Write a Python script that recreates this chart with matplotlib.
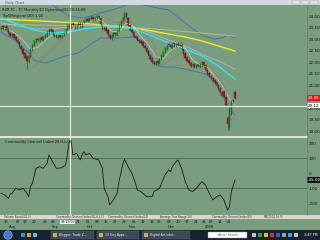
import numpy as np
import pandas as pd
import matplotlib
matplotlib.use('Agg')
import matplotlib.pyplot as plt
import matplotlib.transforms as mtransforms
from matplotlib.patches import Rectangle, Circle

# ---- data ----
holidays = ['2007-09-03', '2007-11-22', '2007-12-25', '2008-01-01']

opens = [23.45, 23.55, 23.42, 23.55, 23.42, 23.28, 23.12, 23.22, 23.08, 22.98,
         22.88, 22.72, 22.58, 22.40, 22.25, 22.00, 22.22, 22.55, 22.72, 22.88,
         23.02, 22.92, 23.08, 22.95, 23.08, 23.12, 23.28, 23.42, 23.38, 23.22,
         23.18, 23.05, 23.18, 23.08, 23.18, 23.25, 23.42, 23.62, 23.48, 23.68,
         23.62, 23.48, 23.60, 23.72, 23.52, 23.68, 23.78, 23.88, 23.76, 23.88,
         23.97, 23.83, 23.90, 24.02, 23.92, 23.62, 23.42, 23.52, 23.40, 23.18,
         23.02, 23.12, 23.28, 23.18, 23.35, 23.58, 23.72, 23.88, 24.12, 23.92,
         23.62, 23.42, 23.32, 23.12, 23.08, 22.98, 22.92, 22.88, 22.72, 22.62,
         22.48, 22.32, 22.18, 22.02, 21.90, 22.04, 21.95, 22.12, 22.28, 22.42,
         22.58, 22.82, 22.78, 22.62, 22.82, 22.68, 22.82, 22.68, 22.80, 22.58,
         22.38, 22.22, 22.08, 21.98, 21.82, 21.92, 21.78, 21.88, 21.80, 21.85,
         22.02, 21.88, 21.68, 21.55, 21.42, 21.32, 21.22, 21.12, 21.02, 20.88,
         20.72, 20.75, 20.50, 19.60, 19.15, 19.75, 20.30, 20.70]
highs = [23.58, 23.60, 23.58, 23.60, 23.48, 23.32, 23.25, 23.26, 23.12, 23.02,
         22.92, 22.76, 22.62, 22.45, 22.30, 22.30, 22.60, 22.80, 22.95, 23.05,
         23.06, 23.10, 23.12, 23.14, 23.20, 23.35, 23.46, 23.48, 23.42, 23.26,
         23.22, 23.20, 23.22, 23.24, 23.30, 23.50, 23.66, 23.68, 23.70, 23.72,
         23.66, 23.66, 23.75, 23.76, 23.74, 23.84, 23.90, 23.92, 23.94, 24.00,
         24.01, 23.96, 24.05, 24.06, 23.95, 23.66, 23.55, 23.56, 23.44, 23.22,
         23.20, 23.30, 23.32, 23.40, 23.65, 23.80, 23.95, 24.20, 24.16, 23.96,
         23.66, 23.46, 23.36, 23.16, 23.12, 23.02, 22.96, 22.92, 22.76, 22.66,
         22.52, 22.36, 22.22, 22.06, 22.05, 22.08, 22.20, 22.35, 22.50, 22.65,
         22.75, 22.86, 22.82, 22.83, 22.86, 22.85, 22.86, 22.83, 22.84, 22.62,
         22.42, 22.26, 22.12, 22.02, 21.95, 21.96, 21.90, 21.92, 21.95, 22.05,
         22.06, 21.92, 21.72, 21.58, 21.46, 21.36, 21.26, 21.16, 21.06, 20.92,
         20.76, 20.80, 20.54, 19.68, 20.00, 20.35, 20.42, 20.78]
lows = [23.40, 23.40, 23.38, 23.36, 23.20, 23.10, 23.08, 23.00, 22.90, 22.80,
        22.65, 22.50, 22.30, 22.15, 21.72, 21.95, 22.18, 22.50, 22.68, 22.85,
        22.90, 22.88, 22.92, 22.90, 23.04, 23.08, 23.24, 23.30, 23.15, 23.10,
        23.05, 23.00, 23.05, 23.04, 23.14, 23.20, 23.38, 23.45, 23.44, 23.55,
        23.45, 23.44, 23.56, 23.50, 23.48, 23.64, 23.74, 23.72, 23.72, 23.84,
        23.80, 23.78, 23.86, 23.90, 23.55, 23.40, 23.38, 23.30, 23.15, 23.00,
        22.98, 23.08, 23.15, 23.14, 23.30, 23.54, 23.68, 23.84, 23.90, 23.55,
        23.36, 23.25, 23.05, 23.00, 22.90, 22.85, 22.80, 22.65, 22.55, 22.40,
        22.25, 22.10, 21.95, 21.86, 21.86, 21.90, 21.90, 22.08, 22.24, 22.38,
        22.54, 22.70, 22.60, 22.58, 22.66, 22.64, 22.68, 22.64, 22.50, 22.30,
        22.15, 22.00, 21.90, 21.80, 21.78, 21.75, 21.74, 21.78, 21.76, 21.82,
        21.80, 21.60, 21.45, 21.35, 21.25, 21.15, 21.05, 20.95, 20.80, 20.65,
        20.50, 20.45, 20.10, 19.05, 19.05, 19.70, 20.25, 20.40]
closes = [23.52, 23.45, 23.55, 23.40, 23.25, 23.15, 23.20, 23.05, 22.95, 22.85,
          22.70, 22.55, 22.35, 22.20, 22.05, 22.25, 22.55, 22.75, 22.90, 23.00,
          22.95, 23.05, 22.98, 23.10, 23.15, 23.30, 23.40, 23.35, 23.20, 23.15,
          23.10, 23.15, 23.10, 23.20, 23.25, 23.45, 23.60, 23.50, 23.65, 23.60,
          23.50, 23.62, 23.70, 23.55, 23.70, 23.80, 23.85, 23.78, 23.90, 23.95,
          23.85, 23.92, 24.00, 23.95, 23.60, 23.45, 23.50, 23.35, 23.20, 23.05,
          23.15, 23.25, 23.20, 23.35, 23.60, 23.75, 23.90, 24.10, 23.95, 23.60,
          23.40, 23.30, 23.10, 23.05, 22.95, 22.90, 22.85, 22.70, 22.60, 22.45,
          22.30, 22.15, 22.00, 21.92, 22.00, 21.95, 22.15, 22.30, 22.45, 22.60,
          22.70, 22.75, 22.65, 22.78, 22.70, 22.80, 22.72, 22.78, 22.55, 22.35,
          22.20, 22.05, 21.95, 21.85, 21.90, 21.80, 21.85, 21.82, 21.90, 22.00,
          21.85, 21.65, 21.50, 21.40, 21.30, 21.20, 21.10, 21.00, 20.85, 20.70,
          20.55, 20.50, 20.15, 19.30, 19.95, 20.30, 20.35, 20.45]

# indicator lines, sampled at these bars
line_bars = [0, 9, 18, 27, 37, 45, 54, 64, 72, 82, 91, 100, 109, 118, 127]
cyan_ma = [23.91, 23.65, 23.39, 23.26, 23.31, 23.44, 23.52, 23.52, 23.44, 23.13,
           22.83, 22.57, 22.27, 21.83, 21.27]
yellow_ma = [23.87, 23.83, 23.80, 23.76, 23.72, 23.68, 23.61, 23.55, 23.48, 23.35,
             23.22, 23.09, 22.92, 22.70, 22.48]
lavender_ma = [23.70, 23.57, 23.44, 23.44, 23.52, 23.61, 23.61, 23.57, 23.48, 23.26,
               22.96, 22.70, 22.35, 22.05, 21.70]
khaki_bars = [0, 18, 37, 54, 72, 91, 109, 127]
khaki_ma = [23.65, 23.61, 23.59, 23.57, 23.50, 23.39, 23.26, 23.13]

short_bars = [0, 4, 8, 12, 16, 20, 24, 28, 32, 36, 40, 44, 48, 52, 56, 60, 64,
              68, 72, 76, 80, 84, 88, 92, 96, 100, 104, 108, 112, 116, 120, 124, 127]
short_ma = [23.50, 23.42, 23.22, 22.95, 22.55, 22.65, 22.95, 23.18, 23.18, 23.25,
            23.50, 23.58, 23.75, 23.88, 23.72, 23.35, 23.30, 23.70, 23.55, 23.10,
            22.75, 22.25, 22.15, 22.50, 22.70, 22.62, 22.10, 21.88, 21.78, 21.40,
            21.00, 20.40, 20.15]

upper_bars = [0, 9, 18, 26, 30, 37, 45, 54, 64, 71, 76, 85, 91, 98, 105, 110, 116, 120, 123, 127]
upper_band = [24.85, 24.90, 24.85, 24.62, 24.35, 24.00, 23.91, 24.13, 24.35, 24.60,
              24.50, 24.35, 24.26, 23.83, 23.39, 23.13, 23.00, 23.05, 23.18, 23.05]
lower_bars = [0, 7, 15, 18, 24, 29, 33, 37, 42, 48, 54, 60, 65, 72, 78, 83, 87, 94,
              102, 109, 113, 118, 123, 127]
lower_band = [23.31, 22.96, 22.40, 22.09, 21.96, 22.09, 22.22, 22.31, 22.40, 22.74,
              23.05, 23.05, 23.05, 23.09, 22.87, 21.96, 21.79, 21.79, 21.66, 21.53,
              21.44, 20.88, 20.14, 19.71]

# dotted stop line, nan = break between runs
sar_bars = [17, 21, 26, 31, 36, 53, 57, 62, 70, 76, 83, 86, 91, 96, 102, 105, 110, 116, 122, 125, 127]
sar_vals = [21.75, 22.05, 22.45, 22.85, 23.25, np.nan, 23.95, 23.70, 23.83, 23.31, 22.83,
            21.79, 22.05, 22.31, 22.61, np.nan, 22.15, 21.57, 20.79, 19.50, 19.60]

cci_bars = [0, 2, 4, 5, 6, 8, 10, 12, 14, 15, 16, 17, 19, 21, 23, 25, 26, 28, 30, 33,
            35, 36, 37, 38, 39, 41, 43, 44, 45, 46, 48, 50, 53, 55, 56, 58, 59, 61,
            63, 64, 66, 67, 69, 71, 73, 74, 76, 79, 82, 83, 86, 89, 91, 92, 93, 95,
            96, 98, 100, 102, 104, 106, 109, 111, 113, 115, 117, 119, 121, 123, 124,
            125, 127]
cci_vals = [-133, -145, -167, -140, -133, -100, -111, -100, -133, -156, -89, -67, 33,
            44, 33, 67, 122, 77, 33, 37, 55, 122, 211, 222, 122, 133, 89, 122, 144,
            122, 133, 100, 89, 33, -100, -156, -211, -178, -133, -56, 55, 95, 44, 0,
            -67, -111, -122, -156, -156, -122, -100, -11, 22, 11, 44, 77, 89, 33, -56,
            -111, -122, -100, -56, -78, -133, -178, -156, -145, -178, -245, -223,
            -122, -45]

price_ticks = [19.0, 19.5, 20.0, 20.5, 21.0, 21.5, 22.0, 22.5, 23.0, 23.5, 24.0]
cci_ticks = [200, 100, 0, -100, -200]
cross_price = 20.12
cross_date = '09/18/07'
day_tick_dates = ['2007-07-30', '2007-08-07', '2007-08-13', '2007-08-20', '2007-08-28',
                  '2007-09-04', '2007-09-24', '2007-10-01',
                  '2007-10-08', '2007-10-15', '2007-10-22', '2007-10-29', '2007-11-05',
                  '2007-11-12', '2007-11-19', '2007-11-26', '2007-12-03', '2007-12-10',
                  '2007-12-17', '2007-12-24', '2007-12-31', '2008-01-07', '2008-01-14',
                  '2008-01-21']
month_labels = ['Aug', 'Sep', 'Oct', 'Nov', 'Dec', '2008']

# ---- layout ----
W, H = 320, 240
GREEN = '#7a9d7f'
fig = plt.figure(figsize=(3.2, 2.4), dpi=100)
fig.patch.set_facecolor(GREEN)
px = mtransforms.Affine2D().scale(1 / W, -1 / H).translate(0, 1) + fig.transFigure


def px_axes(x0, y0, x1, y1):
    return fig.add_axes([x0 / W, 1 - y1 / H, (x1 - x0) / W, (y1 - y0) / H])


dates = pd.bdate_range('2007-07-25', '2008-01-24').drop(pd.to_datetime(holidays))
n = len(closes)
bars = np.arange(n)
xlim = (-0.55, 165.8)

ax1 = px_axes(0, 5, 306.5, 137)
ax2 = px_axes(0, 138, 306.5, 215)
for ax in (ax1, ax2):
    ax.set_facecolor(GREEN)
    ax.set_xlim(*xlim)
    for s in ax.spines.values():
        s.set_visible(False)
    ax.set_xticks([])
    ax.yaxis.tick_right()
    ax.tick_params(axis='y', length=0, pad=1.5, labelsize=3, labelcolor='#101010')

# price panel
ax1.set_ylim(18.757, 24.477)
ax1.set_yticks(price_ticks)
ax1.set_yticklabels([f'{v:.2f}' for v in price_ticks])

ax1.plot(upper_bars, upper_band, color='#4a66b8', lw=0.6)
ax1.plot(lower_bars, lower_band, color='#4a66b8', lw=0.6)
ax1.plot(khaki_bars, khaki_ma, color='#c8c078', lw=0.6)
ax1.plot(line_bars, yellow_ma, color='#f0f020', lw=1.0)
ax1.plot(line_bars, lavender_ma, color='#b8b4d0', lw=0.6)
ax1.plot(line_bars, cyan_ma, color='#20f0f0', lw=1.0)
ax1.plot(short_bars, short_ma, color='#d8d8d0', lw=0.4)
ax1.plot(sar_bars, sar_vals, color='#e03030', lw=0.5, ls=(0, (1, 2)))

o = np.array(opens)
c = np.array(closes)
up = c >= o
ax1.vlines(bars, lows, highs, color='#303030', lw=0.4)
ax1.bar(bars[up], (c - o)[up], bottom=o[up], width=0.85, color='#10e010',
        edgecolor='#205020', lw=0.2)
ax1.bar(bars[~up], (o - c)[~up], bottom=c[~up], width=0.85, color='#d81010',
        edgecolor='#501010', lw=0.2)

cross_bar = 37.3
ax1.axhline(cross_price, color='#f0f0f0', lw=0.8)
ax1.axvline(cross_bar, color='#f0f0f0', lw=0.8)
bt = mtransforms.blended_transform_factory(ax1.transAxes, ax1.transData)
ax1.text(1.004, cross_price, f'{cross_price:.2f}', transform=bt, fontsize=3, va='center',
         ha='left', color='black',
         bbox=dict(boxstyle='square,pad=0.2', fc='white', ec='none'))
ax1.text(1.004, closes[-1], f'{closes[-1]:.2f}', transform=bt, fontsize=3, va='center',
         ha='left', color='white',
         bbox=dict(boxstyle='square,pad=0.2', fc='#e01818', ec='none'))
ax1.text(0.006, 0.975, 'RZR TC - TC Monthly(D) Dynamics(E) 09:24:08', transform=ax1.transAxes,
         fontsize=2.6, va='top', ha='left', color='#101010')
ax1.text(0.006, 0.935, 'TopWhisperer(20) 1.00', transform=ax1.transAxes,
         fontsize=2.6, va='top', ha='left', color='#101010')

# CCI panel
ax2.set_ylim(-278, 235)
ax2.set_yticks(cci_ticks)
ax2.set_yticklabels([str(v) for v in cci_ticks])
ax2.axhline(100, color='#4e6b53', lw=0.6)
ax2.axhline(-100, color='#4e6b53', lw=0.6)
ax2.plot(cci_bars, cci_vals, color='#101010', lw=0.55)
ax2.axvline(cross_bar, color='#f0f0f0', lw=0.8)
bt2 = mtransforms.blended_transform_factory(ax2.transAxes, ax2.transData)
ax2.text(1.004, cci_vals[-1], f'{cci_vals[-1]:.2f}', transform=bt2, fontsize=3, va='center',
         ha='left', color='white',
         bbox=dict(boxstyle='square,pad=0.2', fc='#101010', ec='none'))
ax2.text(0.015, 0.97, 'Commodity Channel Index(20,H,L,C)', transform=ax2.transAxes,
         fontsize=2.6, va='top', ha='left', color='#101010')

# window chrome
fig.add_artist(Rectangle((0, 0), W, 5, transform=px, fc='#d4dae2', ec='none'))
fig.text(5 / W, 1 - 2.6 / H, 'Daily Chart', fontsize=2.4, color='#505860', va='center')
for bx in (292, 301, 310):
    fig.add_artist(Rectangle((bx, 0.6), 7.5, 3.8, transform=px, fc='#e8ecf0', ec='#9098a0', lw=0.3))
fig.add_artist(plt.Line2D([0, 306.5], [137.2, 137.2], transform=px, color='#f4f4f4', lw=1.2))
fig.add_artist(plt.Line2D([306.8, 306.8], [5, 215], transform=px, color='#5d7a62', lw=0.4))

# tab strip
fig.add_artist(Rectangle((0, 215), W, 4, transform=px, fc='#d8d8d0', ec='none'))
tabs = ['Volume Bands(20,2)', 'Commodity Channel Index(20,H,L,C)',
        'Commodity Channel Index(14)', 'Average True Range(14)',
        'Commodity Channel Index(50)', 'MACD(12,26,9)']
tx = 4
for t in tabs:
    fig.text(tx / W, 1 - 217 / H, t, fontsize=1.9, color='#303030', va='center')
    tx += 52

# date axis
dx = mtransforms.blended_transform_factory(ax2.transData, px)
for d in day_tick_dates:
    b = dates.get_loc(pd.Timestamp(d))
    fig.text(b, 222, pd.Timestamp(d).strftime('%d'), transform=dx, fontsize=2.6,
             ha='center', va='center', color='#101010')
month_idx = [i for i in range(1, n) if dates[i].month != dates[i - 1].month]
for lab, b in zip(month_labels, month_idx):
    fig.text(b - 0.5, 227, lab, transform=dx, fontsize=2.6, ha='left', va='center',
             color='#101010')
fig.text(36.2, 222, cross_date, transform=dx, fontsize=2.3, ha='center', va='center',
         color='#101010', bbox=dict(boxstyle='square,pad=0.1', fc='white', ec='none'))

# taskbar
fig.add_artist(Rectangle((0, 230), W, 10, transform=px, fc='#18222e', ec='none'))
fig.add_artist(Circle((8, 235), 4.2, transform=px, fc='#3c7ad0', ec='#9cc0e8', lw=0.4))
for qx, qc in zip((21, 27, 33), ('#3a8ae0', '#e0a030', '#60b0e0')):
    fig.add_artist(Rectangle((qx, 232.5), 4, 4, transform=px, fc=qc, ec='none'))
task_buttons = [(51, 43, 'Blogger: Trade Z...'), (97, 42, '19 Tiny Apps...'),
                (142, 48, 'Digital Art Infor...')]
for bx, bw, lab in task_buttons:
    fig.add_artist(Rectangle((bx, 231.3), bw, 7.5, transform=px, fc='#3c4a58', ec='#5a6a7a', lw=0.3))
    fig.add_artist(Rectangle((bx + 2, 233), 4, 4, transform=px, fc='#c8b060', ec='none'))
    fig.text((bx + 8) / W, 1 - 235 / H, lab, fontsize=2.2, color='white', va='center')
fig.add_artist(Rectangle((208, 232), 39, 6, transform=px, fc='white', ec='#808890', lw=0.3))
fig.text(227.5 / W, 1 - 235 / H, 'Yahoo! Search', fontsize=2.2, color='#606060',
         va='center', ha='center')
for tx, tc in zip((252, 258, 264, 270, 276, 282, 288, 294),
                  ('#c0c0c0', '#30a030', '#e0c020', '#d03030', '#3060d0', '#a0a0a0',
                   '#40a0e0', '#c0c0c0')):
    fig.add_artist(Rectangle((tx, 233), 4, 4, transform=px, fc=tc, ec='none'))
fig.text(311 / W, 1 - 235 / H, '3:47 PM', fontsize=2.4, color='white', va='center',
         ha='center')

fig.savefig('out.png', dpi=100, facecolor=fig.get_facecolor())
